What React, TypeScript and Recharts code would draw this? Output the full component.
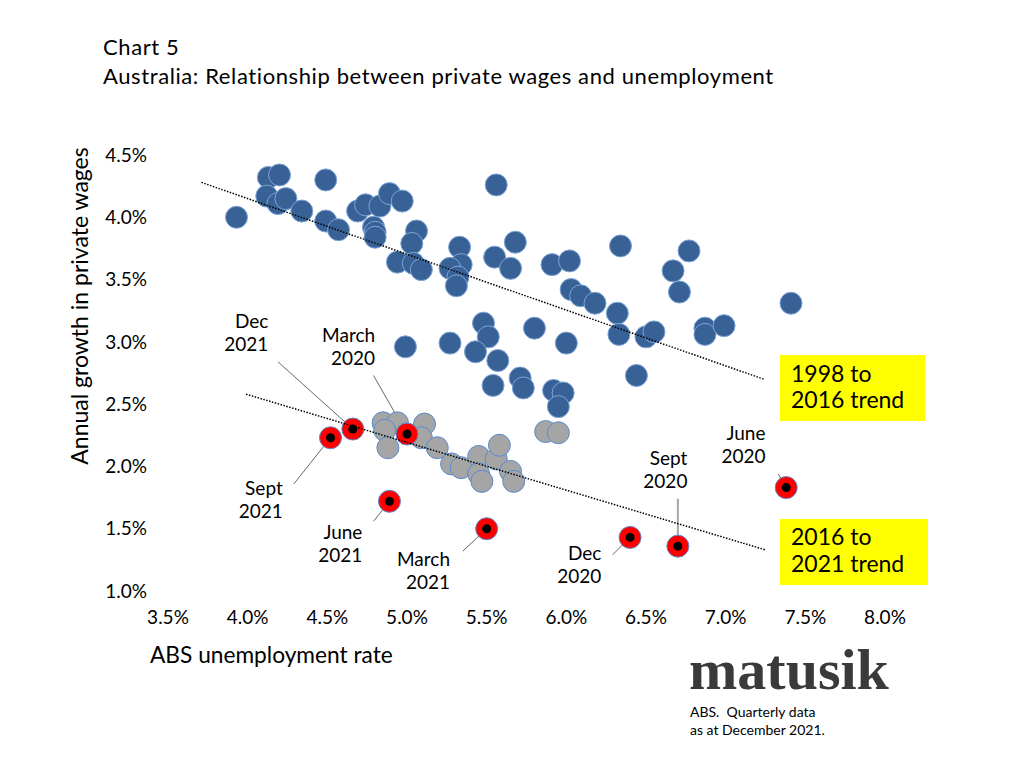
import React from "react";
import { ReferenceDot, ReferenceLine, Scatter, ScatterChart, XAxis, YAxis } from "recharts";

// unemployment rate (%) , private wage growth (%)
const quarters1998to2016: Array<[number, number]> = [
	[3.93, 4.0], [4.13, 4.32], [4.2, 4.34], [4.12, 4.17], [4.19, 4.11], [4.24, 4.15],
	[4.34, 4.05], [4.49, 4.3], [4.49, 3.97], [4.57, 3.9], [4.69, 4.05], [4.74, 4.1],
	[4.83, 4.09], [4.89, 4.19], [4.97, 4.13], [4.79, 3.92], [4.8, 3.88], [4.8, 3.84],
	[5.06, 3.89], [5.03, 3.79], [4.94, 3.64], [5.04, 3.63], [5.09, 3.58], [5.33, 3.76],
	[5.34, 3.62], [5.27, 3.59], [5.32, 3.52], [5.31, 3.45], [5.56, 4.26], [5.55, 3.68],
	[5.68, 3.8], [5.65, 3.59], [5.91, 3.62], [6.02, 3.65], [6.34, 3.77], [6.77, 3.73],
	[6.67, 3.57], [6.71, 3.4], [6.03, 3.42], [6.09, 3.37], [6.18, 3.31], [6.32, 3.23],
	[6.33, 3.06], [6.5, 3.04], [6.55, 3.08], [6.87, 3.11], [6.87, 3.06], [6.99, 3.13],
	[7.41, 3.31], [6.44, 2.73], [5.48, 3.15], [5.51, 3.04], [5.27, 2.99], [5.43, 2.92],
	[5.57, 2.85], [5.8, 3.11], [6.0, 2.99], [5.54, 2.65], [5.71, 2.71], [5.73, 2.63],
	[5.92, 2.61], [5.98, 2.59], [5.95, 2.48], [4.99, 2.96],
];

const quarters2016to2019: Array<[number, number]> = [
	[4.85, 2.35], [4.94, 2.35], [4.86, 2.29], [4.88, 2.15], [5.11, 2.34], [5.09, 2.23],
	[5.19, 2.15], [5.28, 2.02], [5.34, 1.99], [5.45, 2.08], [5.56, 2.06], [5.58, 2.17],
	[5.45, 1.94], [5.47, 1.88], [5.65, 1.96], [5.67, 1.88], [5.87, 2.28], [5.95, 2.27],
];

const covidQuarters = ["March 2020", "June 2020", "Sept 2020", "Dec 2020", "March 2021", "June 2021", "Sept 2021", "Dec 2021"];
const covidUnemployment = [5.0, 7.38, 6.7, 6.4, 5.5, 4.89, 4.52, 4.66];
const covidWages = [2.26, 1.83, 1.36, 1.43, 1.5, 1.72, 2.23, 2.3];

const trend1998to2016: Array<[number, number]> = [[3.71, 4.28], [7.24, 2.7]];
const trend2016to2021: Array<[number, number]> = [[3.99, 2.58], [7.25, 1.33]];

const xTicks = [3.5, 4.0, 4.5, 5.0, 5.5, 6.0, 6.5, 7.0, 7.5, 8.0];
const yTicks = [1.0, 1.5, 2.0, 2.5, 3.0, 3.5, 4.0, 4.5];

// label text anchor (right end of first line) and leader start, in data units
const labelX = [4.8, 7.25, 6.76, 6.22, 5.27, 4.72, 4.22, 4.13];
const labelY = [3.0, 2.21, 2.01, 1.25, 1.2, 1.415, 1.77, 3.11];
const leaderX = [4.79, 7.33, 6.7, 6.29, 5.35, 4.79, 4.29, 4.19];
const leaderY = [2.73, 1.94, 1.74, 1.29, 1.32, 1.56, 1.86, 2.84];

const FONT = "Lato, 'Open Sans', sans-serif";
const pct = (v: number) => `${v.toFixed(1)}%`;
const toPoints = (rows: Array<[number, number]>) => rows.map(([x, y]) => ({ x, y }));

const covidPoints = covidQuarters.map((q, i) => ({ q, x: covidUnemployment[i], y: covidWages[i] }));

function BlueDot(p: any) {
	return <circle cx={p.cx} cy={p.cy} r={11} fill="#386296" stroke="#7ea4d8" strokeWidth={1} />;
}
function GreyDot(p: any) {
	return <circle cx={p.cx} cy={p.cy} r={11} fill="#a5a5a5" stroke="#5b8bd0" strokeWidth={1} />;
}
function RedDot(p: any) {
	return (
		<g>
			<circle cx={p.cx} cy={p.cy} r={11} fill="#ff0000" stroke="#5b8bd0" strokeWidth={1} />
			<circle cx={p.cx} cy={p.cy} r={4.5} fill="#000" />
		</g>
	);
}

function QuarterLabel({ cx, cy, text }: { cx: number; cy: number; text: string }) {
	const [m, yr] = text.split(" ");
	return (
		<text x={cx} y={cy} textAnchor="end" fontSize={19} fontFamily={FONT} fill="#000">
			<tspan x={cx}>{m}</tspan>
			<tspan x={cx} dy={23}>{yr}</tspan>
		</text>
	);
}

export default function App() {
	return (
		<div style={{ position: "absolute", left: 0, top: 0, width: 1024, height: 768, background: "#fff" }}>
			<ScatterChart width={1024} height={768} margin={{ top: 155, right: 139, bottom: 147, left: 108 }}>
				<XAxis
					type="number"
					dataKey="x"
					domain={[3.5, 8]}
					ticks={xTicks}
					tickFormatter={pct}
					axisLine={false}
					tickLine={false}
					tickSize={0}
					tickMargin={20}
					height={30}
					tick={{ fontSize: 19, fontFamily: FONT, fill: "#000" }}
					allowDataOverflow
				/>
				<YAxis
					type="number"
					dataKey="y"
					domain={[1, 4.5]}
					ticks={yTicks}
					tickFormatter={pct}
					axisLine={false}
					tickLine={false}
					tickSize={0}
					tickMargin={21}
					width={60}
					tick={{ fontSize: 19, fontFamily: FONT, fill: "#000" }}
					allowDataOverflow
				/>
				<Scatter data={toPoints(quarters1998to2016)} shape={BlueDot} isAnimationActive={false} />
				<Scatter data={toPoints(quarters2016to2019)} shape={GreyDot} isAnimationActive={false} />
				<Scatter data={covidPoints} shape={RedDot} isAnimationActive={false} />
				<Scatter
					data={toPoints(trend1998to2016)}
					line={{ stroke: "#000", strokeWidth: 1.5, strokeDasharray: "1.5 1.5" }}
					shape={() => <g />}
					isAnimationActive={false}
				/>
				<Scatter
					data={toPoints(trend2016to2021)}
					line={{ stroke: "#000", strokeWidth: 1.5, strokeDasharray: "1.5 1.5" }}
					shape={() => <g />}
					isAnimationActive={false}
				/>
				{covidPoints.map((pt, i) => (
					<ReferenceLine
						key={`l${i}`}
						segment={[
							{ x: leaderX[i], y: leaderY[i] },
							{ x: pt.x, y: pt.y },
						]}
						stroke={pt.q === "Sept 2020" ? "#a6a6a6" : "#404040"}
						strokeWidth={pt.q === "Sept 2020" ? 2 : 0.8}
					/>
				))}
				{covidPoints.map((pt, i) => (
					<ReferenceDot
						key={`t${i}`}
						x={labelX[i]}
						y={labelY[i]}
						r={0}
						shape={(p: any) => <QuarterLabel cx={p.cx} cy={p.cy} text={pt.q} />}
					/>
				))}
			</ScatterChart>
			<svg width={1024} height={768} style={{ position: "absolute", left: 0, top: 0, pointerEvents: "none" }}>
				<g fontFamily={FONT} fill="#000">
					<text x={103} y={55} fontSize={22} letterSpacing={0.6}>Chart 5</text>
					<text x={103} y={84} fontSize={22} letterSpacing={0.6}>
						Australia: Relationship between private wages and unemployment
					</text>
					<text x={150} y={663} fontSize={22.7}>ABS unemployment rate</text>
					<text x={88} y={306} fontSize={23} textAnchor="middle" transform="rotate(-90 88 306)">
						Annual growth in private wages
					</text>
					<rect x={780} y={355} width={145} height={66} fill="#ffff00" />
					<text x={791} y={382} fontSize={23}>1998 to</text>
					<text x={791} y={408} fontSize={23}>2016 trend</text>
					<rect x={780} y={519} width={148} height={66} fill="#ffff00" />
					<text x={791} y={545} fontSize={23}>2016 to</text>
					<text x={791} y={572} fontSize={23}>2021 trend</text>
					<text x={690} y={717} fontSize={14}>{"ABS.\u00a0 Quarterly data"}</text>
					<text x={690} y={735} fontSize={14}>as at December 2021.</text>
				</g>
				<text x={689} y={689} fontSize={58} fontWeight={700} fontFamily="'Liberation Serif', serif" fill="#3a3a3a">
					matusik
				</text>
			</svg>
		</div>
	);
}
